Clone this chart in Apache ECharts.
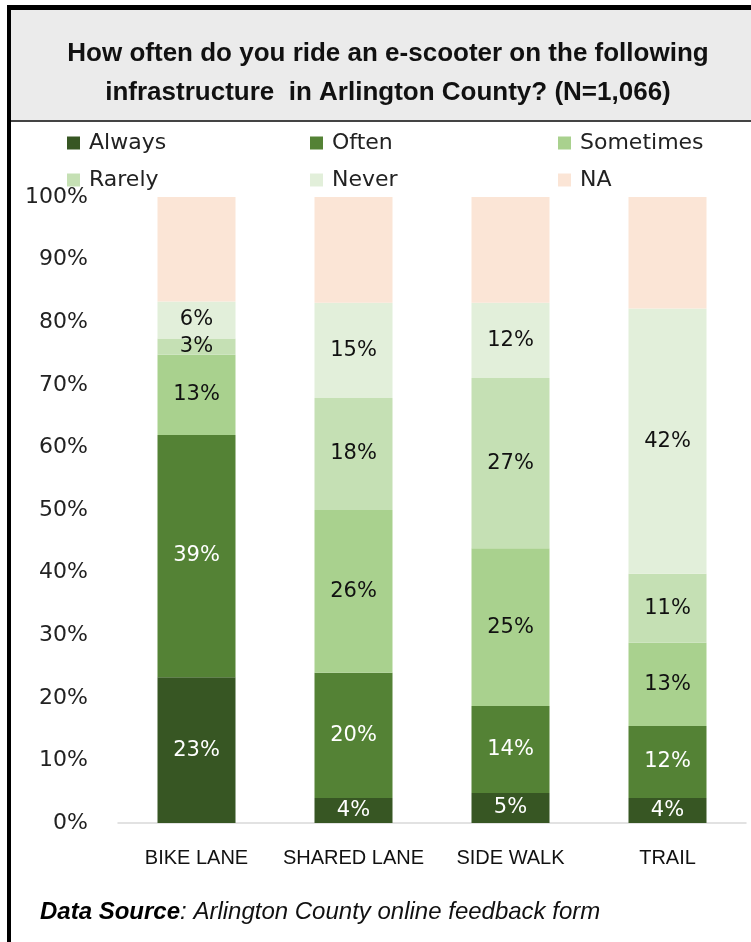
<!DOCTYPE html>
<html>
<head>
<meta charset="utf-8">
<script src="https://cdn.jsdelivr.net/npm/echarts@6/dist/echarts.min.js"></script>
<style>
  html, body { margin: 0; padding: 0; background: #fff; }
  #chart { width: 751px; height: 942px; }
</style>
</head>
<body>
<div id="chart"></div>
<script>
// categories + values (percent of respondents)
const categories = ['BIKE LANE', 'SHARED LANE', 'SIDE WALK', 'TRAIL']
const always = [23.3, 4.0, 4.8, 4.0]
const often = [38.7, 20.0, 13.9, 11.5]
const sometimes = [12.8, 26.0, 25.2, 13.3]
const rarely = [2.6, 17.9, 27.2, 11.0]
const never = [5.9, 15.2, 12.0, 42.4]
const na = [16.7, 16.9, 16.9, 17.8]
const yTicks = [0, 10, 20, 30, 40, 50, 60, 70, 80, 90, 100]

const font = 'DejaVu Sans'

function barSeries(name, data, color, labelColor) {
  return {
    name: name,
    type: 'bar',
    stack: 'total',
    barWidth: 78,
    data: data,
    itemStyle: { color: color },
    label: {
      show: labelColor !== null,
      position: 'inside',
      color: labelColor || '#000',
      fontFamily: font,
      fontSize: 21,
      formatter: (p) => Math.round(p.value) + '%',
    },
  }
}

// one vertical legend per column, like the Excel legend grid
function legendCol(names, left) {
  return {
    data: names,
    left: left,
    top: 127,
    orient: 'vertical',
    icon: 'rect',
    itemWidth: 13,
    itemHeight: 13,
    itemGap: 15,
    textStyle: { fontFamily: font, fontSize: 22, color: '#222', padding: [0, 0, 0, 4] },
  }
}

const chart = echarts.init(document.getElementById('chart'))
const option = {
  animation: false,
  backgroundColor: '#fff',
  graphic: [
    // title box
    { type: 'rect', shape: { x: 7, y: 5, width: 760, height: 116 }, style: { fill: '#ebebeb' }, z: -1 },
    { type: 'rect', shape: { x: 7, y: 5, width: 760, height: 5 }, style: { fill: '#000' } },
    { type: 'rect', shape: { x: 7, y: 120, width: 760, height: 2 }, style: { fill: '#444' } },
    // left frame
    { type: 'rect', shape: { x: 7, y: 5, width: 4, height: 937 }, style: { fill: '#000' } },
  ],
  title: [
    {
      text: 'How often do you ride an e-scooter on the following\ninfrastructure  in Arlington County? (N=1,066)',
      left: 383,
      top: 29,
      textAlign: 'center',
      textStyle: {
        fontFamily: 'Liberation Sans',
        fontWeight: 'bold',
        fontSize: 26,
        lineHeight: 39,
        color: '#111',
      },
    },
    {
      text: '{b|Data Source}{i|: Arlington County online feedback form}',
      left: 35,
      top: 895,
      textStyle: {
        fontWeight: 'normal',
        rich: {
          b: { fontFamily: 'Liberation Sans', fontStyle: 'italic', fontWeight: 'bold', fontSize: 24, color: '#000' },
          i: { fontFamily: 'Liberation Sans', fontStyle: 'italic', fontWeight: 'normal', fontSize: 24, color: '#111' },
        },
      },
    },
  ],
  legend: [
    legendCol(['Always', 'Rarely'], 62),
    legendCol(['Often', 'Never'], 305),
    legendCol(['Sometimes', 'NA'], 553),
  ],
  grid: { left: 118, right: 5, top: 197, bottom: 119, containLabel: false },
  xAxis: {
    type: 'category',
    data: categories,
    axisTick: { show: false },
    axisLine: { lineStyle: { color: '#d9d9d9', width: 1.5 } },
    axisLabel: {
      interval: 0,
      fontFamily: 'Liberation Sans',
      fontSize: 20,
      color: '#111',
      margin: 25,
    },
  },
  yAxis: {
    type: 'value',
    min: yTicks[0],
    max: yTicks[yTicks.length - 1],
    interval: 10,
    splitLine: { show: false },
    axisLine: { show: false },
    axisTick: { show: false },
    axisLabel: {
      fontFamily: font,
      fontSize: 22,
      color: '#222',
      margin: 30,
      formatter: '{value}%',
    },
  },
  series: [
    barSeries('Always', always, '#375623', '#fff'),
    barSeries('Often', often, '#548235', '#fff'),
    barSeries('Sometimes', sometimes, '#a9d18e', '#111'),
    barSeries('Rarely', rarely, '#c5e0b4', '#111'),
    barSeries('Never', never, '#e2efda', '#111'),
    barSeries('NA', na, '#fbe5d6', null),
  ],
}
chart.setOption(option)
</script>
</body>
</html>
